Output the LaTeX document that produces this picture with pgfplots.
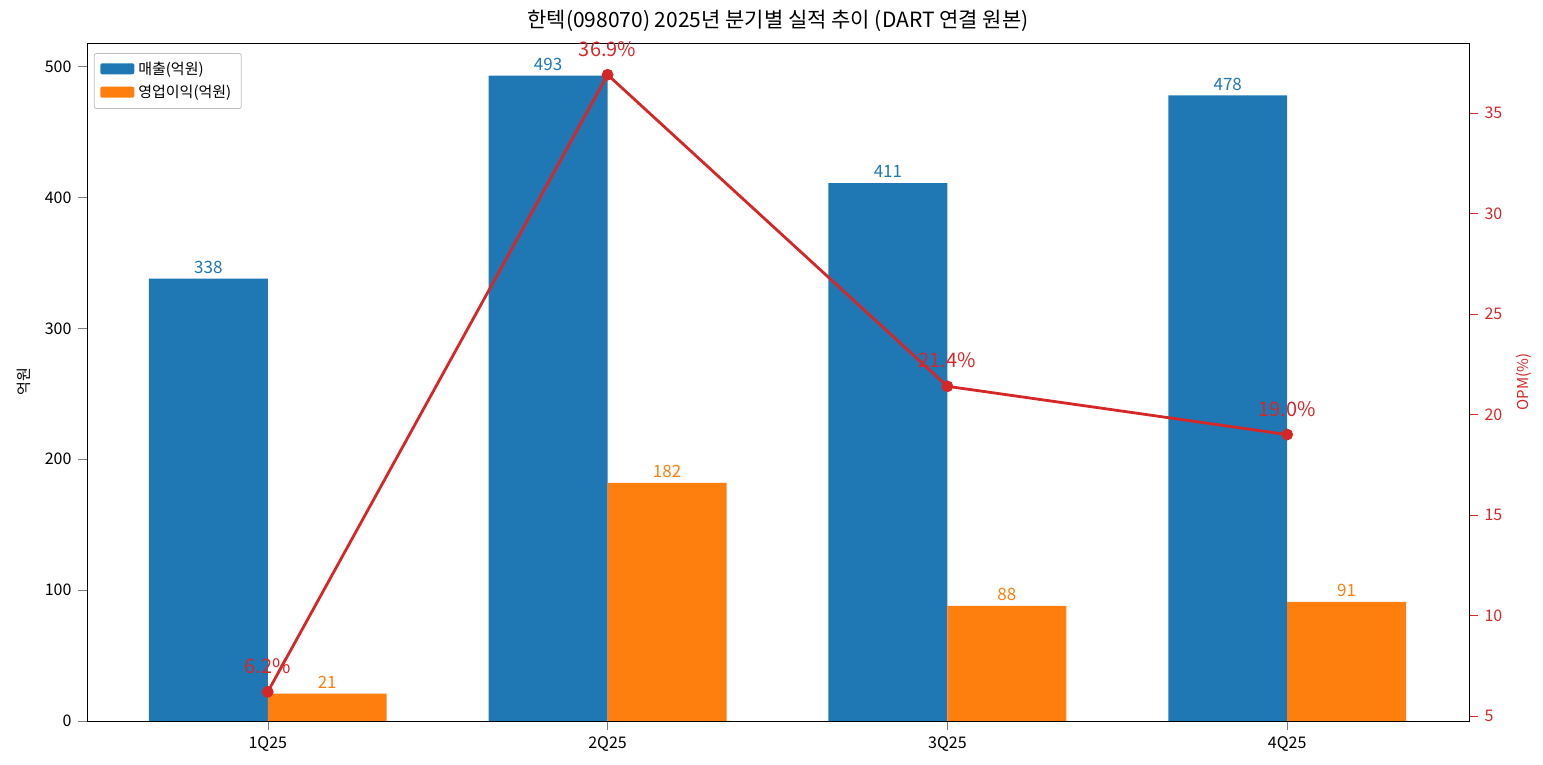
\documentclass[border=0pt]{standalone}
\usepackage{pgfplots}
\pgfplotsset{compat=1.18}
\usepackage{fontspec}
\setmainfont{Noto Sans CJK KR}
\definecolor{cblue}{HTML}{1F77B4}
\definecolor{corange}{HTML}{FF7F0E}
\definecolor{cred}{HTML}{D62728}
\begin{document}
\begin{tikzpicture}
\path (-43.5pt,-22pt) rectangle (728pt,360.5pt);
\begin{axis}[
  at={(0,0)}, anchor=south west, scale only axis,
  width=691pt, height=339pt,
  ybar, bar width=0.35,
  xmin=-0.532, xmax=3.535, ymin=0, ymax=518,
  xtick={0,1,2,3}, xticklabels={1Q25,2Q25,3Q25,4Q25},
  ytick={0,100,200,300,400,500},
  xtick pos=bottom, ytick pos=left, tick align=outside,
  tick label style={font=\fontsize{8}{9}\selectfont},
  /pgf/number format/assume math mode=true,
  ylabel={억원}, ylabel style={font=\fontsize{7.5}{9}\selectfont},
  title={한텍(098070) 2025년 분기별 실적 추이 (DART 연결 원본)},
  title style={font=\fontsize{10.5}{12}\selectfont, yshift=-4pt},
  legend style={at={(0.005,0.985)}, anchor=north west, font=\fontsize{7.5}{9}\selectfont, draw=black!25, rounded corners=1pt, cells={anchor=west}},
  legend image code/.code={\fill[#1] (0pt,-2.5pt) rectangle (17pt,3pt);},
  nodes near coords, every node near coord/.append style={font=\fontsize{8.5}{10}\selectfont, yshift=-1pt},
]
\addplot[bar shift=-0.175, fill=cblue, draw=none, nodes near coords style={cblue}] coordinates {(0,338) (1,493) (2,411) (3,478)};
\addlegendentry{매출(억원)}
\addplot[bar shift=0.175, fill=corange, draw=none, nodes near coords style={corange}] coordinates {(0,21) (1,182) (2,88) (3,91)};
\addlegendentry{영업이익(억원)}
\end{axis}
\begin{axis}[
  at={(0,0)}, anchor=south west, scale only axis,
  width=691pt, height=339pt,
  xmin=-0.532, xmax=3.535, ymin=4.75, ymax=38.48,
  hide x axis, axis y line*=right, tick align=outside,
  ytick={5,10,15,20,25,30,35},
  y axis line style={black}, ytick style={cred},
  yticklabel style={cred, font=\fontsize{8}{9}\selectfont},
  /pgf/number format/assume math mode=true,
  ylabel={OPM(\%)}, ylabel style={cred, font=\fontsize{7.5}{9}\selectfont},
]
\addplot[cred, line width=1.4pt, mark=*, mark size=2.2pt,
  nodes near coords={\pgfmathprintnumber[fixed,precision=1,fixed zerofill]{\pgfplotspointmeta}\%},
  every node near coord/.append style={cred, font=\fontsize{10}{11}\selectfont, yshift=5pt}]
  coordinates {(0,6.2) (1,36.9) (2,21.4) (3,19.0)};
\end{axis}
\end{tikzpicture}
\end{document}
